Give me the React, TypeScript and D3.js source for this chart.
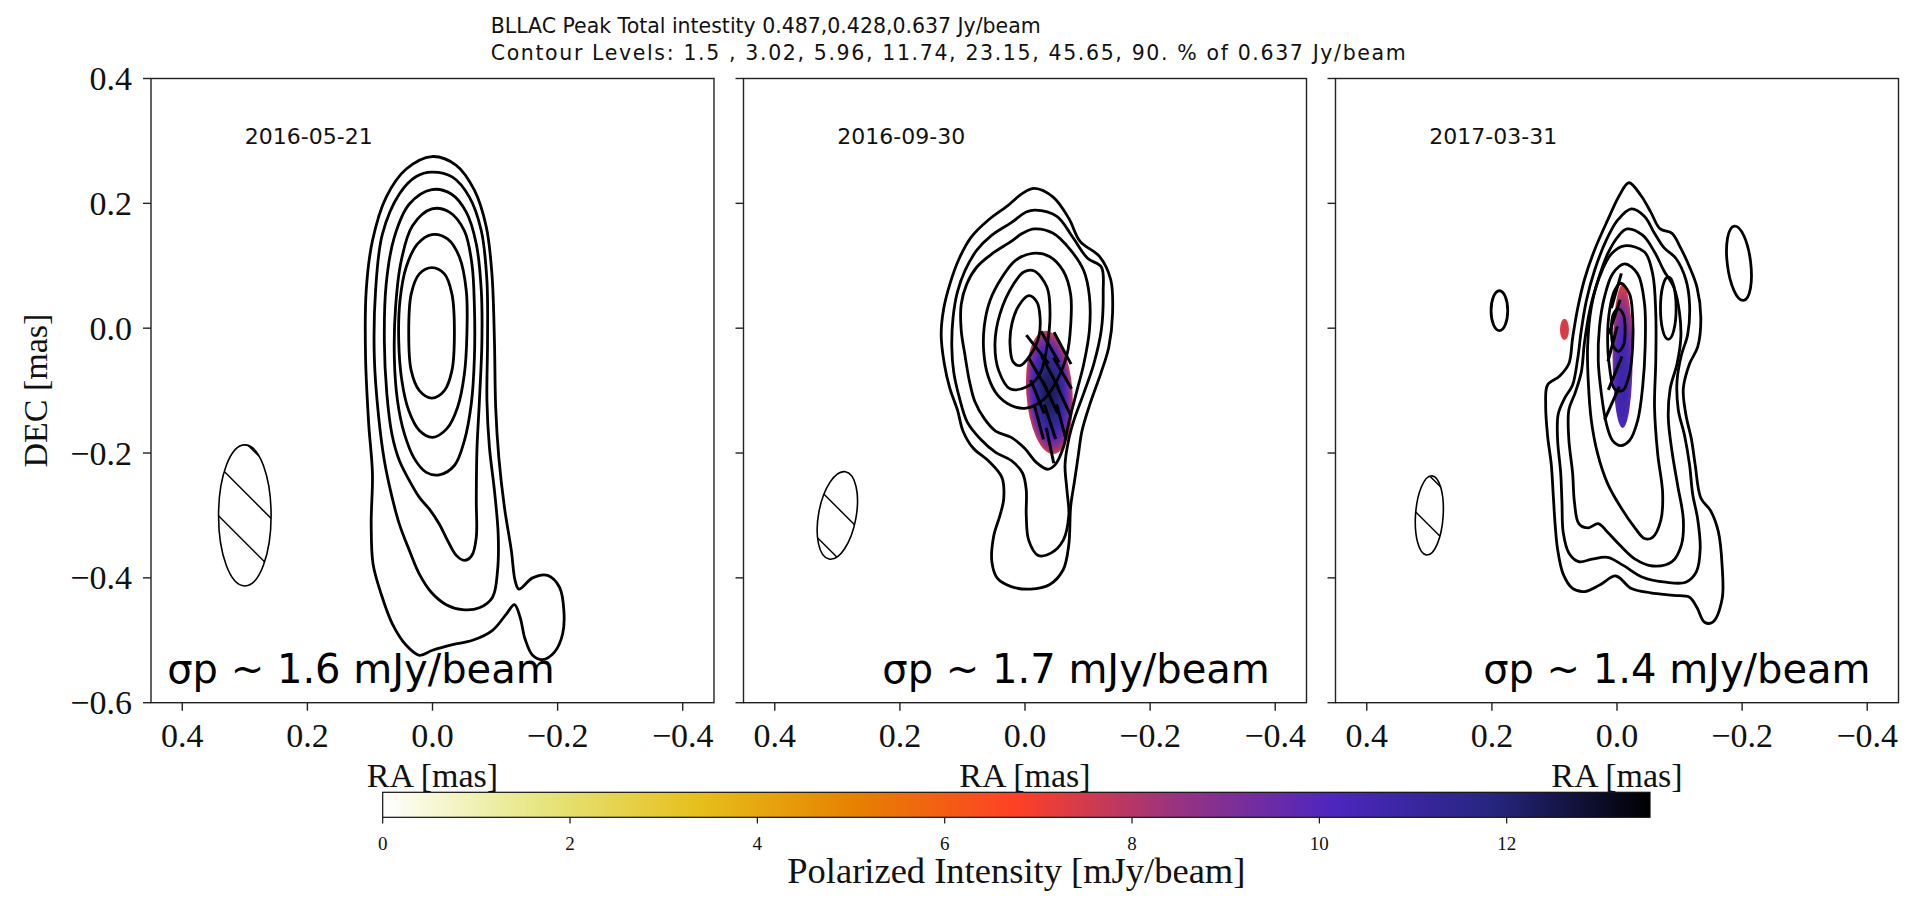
import React from "react";
import * as d3 from "d3";

// ---- values ----
const epochs = ["2016-05-21", "2016-09-30", "2017-03-31"];
const peakTotal = ["0.487", "0.428", "0.637"];
const levelLabels = ["1.5 ", "3.02", "5.96", "11.74", "23.15", "45.65", "90."];
const sigmaP = ["1.6", "1.7", "1.4"];

const raTicks = [0.4, 0.2, 0.0, -0.2, -0.4];
const decTicks = [0.4, 0.2, 0.0, -0.2, -0.4, -0.6];
const cbTicks = [0, 2, 4, 6, 8, 10, 12];
const piMax = 13.53;

// CMRmap_r
const cmapPos = [0, 0.125, 0.25, 0.375, 0.5, 0.625, 0.75, 0.875, 1];
const cmapColors = ["#ffffff", "#e6e680", "#e6bf1a", "#e68000", "#ff4026", "#993380", "#4d26bf", "#262680", "#000000"];

// beams: major, minor (mas), PA (deg)
const beamMaj = [0.113, 0.0711, 0.0636];
const beamMin = [0.042, 0.030, 0.0221];
const beamPa = [0, -10.6, -3.8];
const beamPos = [0.3, -0.3];

// total intensity contours [RA, DEC] in mas, outermost first
const contoursMay16 = [
  [[0.001, 0.275], [-0.038, 0.261], [-0.067, 0.221], [-0.086, 0.162], [-0.095, 0.087], [-0.099, -0.02], [-0.101, -0.127], [-0.106, -0.207], [-0.115, -0.287], [-0.126, -0.356], [-0.132, -0.404], [-0.138, -0.418], [-0.16, -0.4], [-0.184, -0.396], [-0.203, -0.415], [-0.21, -0.452], [-0.208, -0.49], [-0.195, -0.519], [-0.176, -0.531], [-0.16, -0.524], [-0.148, -0.498], [-0.14, -0.463], [-0.131, -0.443], [-0.118, -0.458], [-0.096, -0.484], [-0.064, -0.5], [-0.032, -0.507], [0.0, -0.516], [0.021, -0.524], [0.042, -0.508], [0.064, -0.474], [0.082, -0.426], [0.095, -0.378], [0.098, -0.314], [0.096, -0.233], [0.102, -0.153], [0.107, -0.047], [0.106, 0.06], [0.096, 0.14], [0.074, 0.21], [0.042, 0.255]],
  [[0.001, 0.25], [-0.032, 0.242], [-0.059, 0.21], [-0.078, 0.156], [-0.087, 0.076], [-0.088, -0.02], [-0.087, -0.116], [-0.091, -0.191], [-0.099, -0.26], [-0.105, -0.33], [-0.104, -0.388], [-0.096, -0.431], [-0.075, -0.448], [-0.048, -0.451], [-0.022, -0.443], [0.002, -0.423], [0.021, -0.394], [0.037, -0.356], [0.053, -0.314], [0.066, -0.265], [0.077, -0.212], [0.086, -0.143], [0.093, -0.047], [0.091, 0.06], [0.08, 0.151], [0.053, 0.215], [0.026, 0.243]],
  [[0.001, 0.222], [-0.03, 0.215], [-0.054, 0.186], [-0.07, 0.135], [-0.078, 0.06], [-0.079, -0.02], [-0.075, -0.116], [-0.071, -0.196], [-0.07, -0.276], [-0.07, -0.335], [-0.063, -0.364], [-0.051, -0.372], [-0.038, -0.364], [-0.024, -0.34], [-0.011, -0.314], [0.005, -0.29], [0.021, -0.271], [0.037, -0.244], [0.053, -0.212], [0.065, -0.169], [0.073, -0.105], [0.077, -0.02], [0.074, 0.071], [0.061, 0.146], [0.037, 0.199]],
  [[0.001, 0.191], [-0.027, 0.186], [-0.051, 0.156], [-0.063, 0.103], [-0.067, 0.034], [-0.067, -0.047], [-0.062, -0.121], [-0.051, -0.18], [-0.035, -0.22], [-0.011, -0.235], [0.01, -0.231], [0.029, -0.209], [0.045, -0.169], [0.056, -0.116], [0.061, -0.047], [0.059, 0.034], [0.05, 0.108], [0.032, 0.164]],
  [[0.001, 0.15], [-0.024, 0.143], [-0.043, 0.114], [-0.054, 0.06], [-0.055, -0.009], [-0.051, -0.073], [-0.04, -0.127], [-0.023, -0.161], [0.0, -0.175], [0.021, -0.164], [0.038, -0.132], [0.049, -0.084], [0.054, -0.02], [0.052, 0.044], [0.042, 0.098], [0.024, 0.135]],
  [[0.001, 0.097], [-0.019, 0.087], [-0.031, 0.055], [-0.035, -0.008], [-0.031, -0.068], [-0.019, -0.1], [0.001, -0.112], [0.021, -0.1], [0.034, -0.068], [0.038, -0.008], [0.034, 0.055], [0.021, 0.087]],
];

const contoursSep16 = [
  [[-0.015, 0.224], [-0.045, 0.21], [-0.07, 0.176], [-0.088, 0.139], [-0.119, 0.115], [-0.137, 0.078], [-0.14, 0.024], [-0.134, -0.03], [-0.122, -0.07], [-0.103, -0.124], [-0.091, -0.165], [-0.085, -0.205], [-0.079, -0.246], [-0.073, -0.286], [-0.07, -0.347], [-0.061, -0.387], [-0.039, -0.411], [-0.009, -0.418], [0.022, -0.414], [0.044, -0.401], [0.053, -0.374], [0.05, -0.333], [0.04, -0.3], [0.034, -0.273], [0.037, -0.239], [0.059, -0.212], [0.083, -0.192], [0.099, -0.165], [0.108, -0.131], [0.12, -0.097], [0.129, -0.057], [0.134, -0.01], [0.13, 0.031], [0.12, 0.071], [0.105, 0.112], [0.086, 0.146], [0.059, 0.173], [0.028, 0.196], [0.004, 0.216]],
  [[-0.016, 0.189], [-0.051, 0.179], [-0.076, 0.146], [-0.1, 0.112], [-0.122, 0.098], [-0.125, 0.058], [-0.122, -0.003], [-0.11, -0.057], [-0.094, -0.104], [-0.079, -0.145], [-0.07, -0.178], [-0.064, -0.219], [-0.067, -0.259], [-0.07, -0.3], [-0.061, -0.34], [-0.042, -0.36], [-0.021, -0.364], [-0.006, -0.34], [-0.002, -0.3], [-0.002, -0.259], [0.004, -0.232], [0.022, -0.212], [0.047, -0.199], [0.071, -0.178], [0.092, -0.151], [0.105, -0.111], [0.114, -0.07], [0.117, -0.03], [0.115, 0.017], [0.108, 0.058], [0.096, 0.092], [0.077, 0.125], [0.053, 0.149], [0.022, 0.169], [-0.002, 0.186]],
  [[-0.015, 0.159], [-0.045, 0.152], [-0.073, 0.125], [-0.094, 0.092], [-0.103, 0.051], [-0.103, -0.003], [-0.094, -0.057], [-0.082, -0.104], [-0.07, -0.151], [-0.061, -0.192], [-0.048, -0.219], [-0.036, -0.226], [-0.018, -0.215], [0.001, -0.192], [0.022, -0.175], [0.047, -0.165], [0.065, -0.145], [0.08, -0.118], [0.089, -0.084], [0.096, -0.043], [0.102, -0.003], [0.102, 0.038], [0.093, 0.071], [0.077, 0.098], [0.053, 0.119], [0.022, 0.139], [0.004, 0.152]],
  [[-0.012, 0.12], [-0.039, 0.115], [-0.061, 0.092], [-0.073, 0.054], [-0.073, 0.004], [-0.067, -0.043], [-0.051, -0.084], [-0.03, -0.114], [-0.002, -0.128], [0.022, -0.124], [0.044, -0.107], [0.059, -0.077], [0.066, -0.037], [0.065, 0.004], [0.056, 0.044], [0.037, 0.081], [0.016, 0.108]],
  [[-0.014, 0.092], [-0.035, 0.066], [-0.04, 0.023], [-0.035, -0.03], [-0.024, -0.073], [-0.003, -0.094], [0.024, -0.097], [0.042, -0.068], [0.048, -0.025], [0.04, 0.023], [0.018, 0.071], [0.002, 0.09]],
  [[-0.006, 0.052], [-0.019, 0.042], [-0.024, 0.018], [-0.022, -0.014], [-0.008, -0.044], [0.008, -0.06], [0.019, -0.054], [0.024, -0.025], [0.021, 0.007], [0.01, 0.036]],
];

const contoursMar17 = [
  [[-0.019, 0.233], [-0.038, 0.213], [-0.054, 0.186], [-0.069, 0.159], [-0.088, 0.152], [-0.1, 0.132], [-0.116, 0.098], [-0.128, 0.065], [-0.134, 0.017], [-0.129, -0.03], [-0.116, -0.057], [-0.106, -0.097], [-0.11, -0.138], [-0.119, -0.178], [-0.125, -0.219], [-0.134, -0.272], [-0.15, -0.293], [-0.162, -0.326], [-0.168, -0.38], [-0.168, -0.434], [-0.153, -0.471], [-0.14, -0.471], [-0.128, -0.448], [-0.116, -0.431], [-0.091, -0.428], [-0.054, -0.424], [-0.023, -0.417], [0.002, -0.397], [0.027, -0.411], [0.052, -0.422], [0.071, -0.417], [0.086, -0.394], [0.095, -0.354], [0.099, -0.313], [0.102, -0.266], [0.105, -0.219], [0.111, -0.172], [0.114, -0.124], [0.111, -0.091], [0.092, -0.077], [0.077, -0.057], [0.071, -0.016], [0.063, 0.031], [0.052, 0.078], [0.036, 0.125], [0.015, 0.173], [-0.004, 0.213]],
  [[-0.023, 0.191], [-0.044, 0.179], [-0.06, 0.152], [-0.075, 0.129], [-0.094, 0.112], [-0.11, 0.078], [-0.116, 0.038], [-0.113, -0.01], [-0.103, -0.043], [-0.096, -0.084], [-0.098, -0.131], [-0.108, -0.172], [-0.116, -0.219], [-0.121, -0.266], [-0.129, -0.306], [-0.133, -0.353], [-0.127, -0.39], [-0.11, -0.407], [-0.078, -0.407], [-0.041, -0.399], [-0.01, -0.38], [0.015, -0.367], [0.04, -0.37], [0.061, -0.374], [0.077, -0.36], [0.086, -0.327], [0.088, -0.279], [0.09, -0.232], [0.095, -0.178], [0.094, -0.138], [0.083, -0.111], [0.071, -0.091], [0.063, -0.05], [0.057, -0.003], [0.049, 0.044], [0.036, 0.092], [0.018, 0.139], [-0.001, 0.173]],
  [[-0.016, 0.159], [-0.041, 0.149], [-0.06, 0.122], [-0.075, 0.092], [-0.091, 0.065], [-0.1, 0.024], [-0.102, -0.016], [-0.096, -0.057], [-0.085, -0.097], [-0.082, -0.144], [-0.088, -0.198], [-0.097, -0.252], [-0.106, -0.306], [-0.103, -0.347], [-0.088, -0.374], [-0.057, -0.381], [-0.029, -0.37], [-0.004, -0.347], [0.015, -0.327], [0.03, -0.313], [0.046, -0.32], [0.061, -0.313], [0.068, -0.279], [0.071, -0.232], [0.077, -0.178], [0.077, -0.131], [0.067, -0.104], [0.057, -0.07], [0.052, -0.023], [0.043, 0.031], [0.03, 0.078], [0.015, 0.119], [-0.001, 0.146]],
  [[-0.012, 0.132], [-0.044, 0.122], [-0.057, 0.087], [-0.062, 0.023], [-0.062, -0.052], [-0.06, -0.127], [-0.065, -0.201], [-0.073, -0.265], [-0.07, -0.308], [-0.057, -0.335], [-0.044, -0.337], [-0.028, -0.319], [-0.006, -0.287], [0.015, -0.249], [0.031, -0.201], [0.041, -0.148], [0.046, -0.084], [0.047, -0.03], [0.041, 0.034], [0.028, 0.082], [0.009, 0.119]],
  [[-0.012, 0.103], [-0.033, 0.087], [-0.044, 0.039], [-0.045, -0.03], [-0.041, -0.094], [-0.033, -0.148], [-0.02, -0.18], [-0.006, -0.188], [0.007, -0.18], [0.017, -0.153], [0.025, -0.105], [0.03, -0.052], [0.028, 0.002], [0.02, 0.05], [0.007, 0.087]],
  [[-0.006, 0.072], [-0.02, 0.055], [-0.025, 0.018], [-0.025, -0.03], [-0.02, -0.073], [-0.009, -0.1], [0.004, -0.097], [0.012, -0.062], [0.015, -0.014], [0.012, 0.028], [0.004, 0.06]],
  [[-0.002, 0.031], [-0.01, 0.022], [-0.013, -0.003], [-0.01, -0.028], [-0.002, -0.037], [0.006, -0.028], [0.009, -0.003], [0.006, 0.022]],
];

// isolated lowest-level islands: RA, DEC, semi-axis x, semi-axis y, PA
const islandsMar17 = [
  [0.188, 0.028, 0.0133, 0.032, 0],
  [-0.082, 0.032, 0.0125, 0.05, 0],
  [-0.195, 0.104, 0.0187, 0.06, 7],
];

// polarized intensity blobs: RA, DEC, rx, ry, PA, peak, edge (mJy/beam), focus y, radius
const polSep16 = [[-0.039, -0.103, 0.037, 0.099, 4, 12.3, 7.5, 0.5, 0.5]];
const polMar17 = [
  [-0.009, -0.045, 0.016, 0.115, 0, 10.8, 7.3, 0.68, 0.66],
  [0.084, -0.002, 0.0072, 0.017, 0, 7.5, 7.2, 0.5, 0.5],
];

// EVPA sticks: RA, DEC, EVPA (deg)
const evpaSep16 = [
  [-0.02, -0.034, 38], [-0.04, -0.03, 30], [-0.06, -0.032, 28],
  [-0.02, -0.072, 30], [-0.04, -0.07, 28], [-0.06, -0.072, 30],
  [-0.02, -0.11, 22], [-0.04, -0.11, 25], [-0.06, -0.112, 25],
  [-0.022, -0.15, 15], [-0.04, -0.15, 18], [-0.058, -0.15, 15],
  [-0.04, -0.188, 12],
];
const evpaMar17 = [
  [0.001, 0.06, -16], [0.004, 0.018, -18], [0.007, -0.025, -15],
  [0.003, -0.072, -22], [0.008, -0.12, -24],
];

const contourSets = [contoursMay16, contoursSep16, contoursMar17];
const islandSets = [[], [], islandsMar17];
const polSets = [[], polSep16, polMar17];
const evpaSets = [[], evpaSep16, evpaMar17];

// ---- layout ----
const PANEL_LEFT = [151, 743.5, 1335.5];
const PANEL_TOP = 78.5;
const PW = 563;
const PH = 624.2;
const HATCH_OFF = [-23.3, -7.9, 10.2];
const STICK = 0.058;
const SERIF = "'Liberation Serif', 'Times New Roman', serif";
const SANS = "'DejaVu Sans', sans-serif";

const fmt = (v: number) => (v < 0 ? "\u2212" : "") + Math.abs(v).toFixed(1);

export default function App() {
  const x = d3.scaleLinear().domain([0.45, -0.45]).range([0, PW]);
  const y = d3.scaleLinear().domain([-0.6, 0.4]).range([PH, 0]);
  const kx = PW / 0.9;
  const ky = PH / 1.0;
  const ring = d3
    .line<number[]>()
    .x((d) => x(d[0]))
    .y((d) => y(d[1]))
    .curve(d3.curveCatmullRomClosed.alpha(0.5));
  const cmap = d3
    .scaleLinear<string>()
    .domain(cmapPos.map((p) => p * piMax))
    .range(cmapColors)
    .clamp(true);
  const cb = d3.scaleLinear().domain([0, piMax]).range([382.7, 1650]);

  // flat-topped profile: value falls off mostly near the blob edge
  const gradStops = (peak: number, edge: number) =>
    d3.range(0, 1.0001, 0.1).map((s) => ({
      off: s,
      col: cmap(peak - (peak - edge) * Math.pow(s, 2.5)),
    }));

  return (
    <svg
      width={1909}
      height={902}
      style={{ position: "absolute", left: 0, top: 0, display: "block" }}
      xmlns="http://www.w3.org/2000/svg"
    >
      <defs>
        <clipPath id="panelclip">
          <rect x={0} y={0} width={PW} height={PH} />
        </clipPath>
        <linearGradient id="cbgrad" x1="0" x2="1" y1="0" y2="0">
          {cmapPos.map((p, i) => (
            <stop key={i} offset={p} stopColor={cmapColors[i]} />
          ))}
        </linearGradient>
        {polSets.map((set, i) =>
          set.map((b, j) => (
            <radialGradient key={`g${i}${j}`} id={`pg${i}_${j}`} cx={0.5} cy={b[7]} fx={0.5} fy={b[7]} r={b[8]}>
              {gradStops(b[5], b[6]).map((s, k) => (
                <stop key={k} offset={s.off} stopColor={s.col} />
              ))}
            </radialGradient>
          ))
        )}
        {beamMaj.map((a, i) => (
          <clipPath key={i} id={`beamclip${i}`}>
            <ellipse cx={0} cy={0} rx={beamMin[i] * kx} ry={a * ky} transform={`rotate(${-beamPa[i]})`} />
          </clipPath>
        ))}
      </defs>
      <rect x={0} y={0} width={1909} height={902} fill="#fff" />

      <text x={490.7} y={33.3} fontFamily={SANS} fontSize={20.5} fill="#111" textLength={550} lengthAdjust="spacing">
        {`BLLAC Peak Total intestity ${peakTotal.join(",")} Jy/beam`}
      </text>
      <text x={490.7} y={60} fontFamily={SANS} fontSize={20.5} fill="#111" textLength={915} lengthAdjust="spacing">
        {`Contour Levels: ${levelLabels.join(", ")} % of ${peakTotal[2]} Jy/beam`}
      </text>

      {PANEL_LEFT.map((left, i) => (
        <g key={i} transform={`translate(${left},${PANEL_TOP})`}>
          <g clipPath="url(#panelclip)">
            {polSets[i].map((b, j) => (
              <ellipse
                key={`p${j}`}
                cx={x(b[0])}
                cy={y(b[1])}
                rx={b[2] * kx}
                ry={b[3] * ky}
                transform={`rotate(${-b[4]},${x(b[0])},${y(b[1])})`}
                fill={`url(#pg${i}_${j})`}
              />
            ))}
            {contourSets[i].map((c, j) => (
              <path key={`c${j}`} d={ring(c) || ""} fill="none" stroke="#000" strokeWidth={2.8} strokeLinejoin="round" />
            ))}
            {islandSets[i].map((e, j) => (
              <ellipse
                key={`is${j}`}
                cx={x(e[0])}
                cy={y(e[1])}
                rx={e[2] * kx}
                ry={e[3] * ky}
                transform={`rotate(${-e[4]},${x(e[0])},${y(e[1])})`}
                fill="none"
                stroke="#000"
                strokeWidth={2.8}
              />
            ))}
            {evpaSets[i].map((s, j) => {
              const t = (s[2] * Math.PI) / 180;
              const dr = (STICK / 2) * Math.sin(t);
              const dd = (STICK / 2) * Math.cos(t);
              return (
                <line
                  key={`e${j}`}
                  x1={x(s[0] + dr)}
                  y1={y(s[1] + dd)}
                  x2={x(s[0] - dr)}
                  y2={y(s[1] - dd)}
                  stroke="#000"
                  strokeWidth={3}
                />
              );
            })}
            {/* beam */}
            <g transform={`translate(${x(beamPos[0])},${y(beamPos[1])})`}>
              <ellipse
                cx={0}
                cy={0}
                rx={beamMin[i] * kx}
                ry={beamMaj[i] * ky}
                transform={`rotate(${-beamPa[i]})`}
                fill="none"
                stroke="#000"
                strokeWidth={1.6}
              />
              <g clipPath={`url(#beamclip${i})`}>
                {[-2, -1, 0, 1, 2].map((k) => {
                  const c = HATCH_OFF[i] + k * 50;
                  return <line key={k} x1={-90} y1={-90 + c} x2={90} y2={90 + c} stroke="#000" strokeWidth={1.5} />;
                })}
              </g>
            </g>
            <text x={x(0.3)} y={y(0.295)} fontFamily={SANS} fontSize={22} fill="#111">
              {epochs[i]}
            </text>
            <text x={x([0.424, 0.228, 0.214][i])} y={y(-0.568)} fontFamily={SANS} fontSize={40} fill="#000">
              {`\u03c3p ~ ${sigmaP[i]} mJy/beam`}
            </text>
          </g>
          <rect x={0} y={0} width={PW} height={PH} fill="none" stroke="#222" strokeWidth={1.4} />
          {raTicks.map((t) => (
            <g key={`xt${t}`}>
              <line x1={x(t)} x2={x(t)} y1={PH} y2={PH + 8} stroke="#222" strokeWidth={1.4} />
              <text x={x(t)} y={PH + 44} textAnchor="middle" fontFamily={SERIF} fontSize={34} fill="#111">
                {fmt(t)}
              </text>
            </g>
          ))}
          {decTicks.map((t) => (
            <g key={`yt${t}`}>
              <line x1={-8} x2={0} y1={y(t)} y2={y(t)} stroke="#222" strokeWidth={1.4} />
              {i === 0 && (
                <text x={-19} y={y(t) + 11.5} textAnchor="end" fontFamily={SERIF} fontSize={34} fill="#111">
                  {fmt(t)}
                </text>
              )}
            </g>
          ))}
          <text x={PW / 2} y={PH + 84} textAnchor="middle" fontFamily={SERIF} fontSize={34} fill="#111">
            RA [mas]
          </text>
        </g>
      ))}

      <text
        transform={`translate(47,${PANEL_TOP + PH / 2}) rotate(-90)`}
        textAnchor="middle"
        fontFamily={SERIF}
        fontSize={34}
        fill="#111"
      >
        DEC [mas]
      </text>

      {/* colorbar */}
      <rect x={cb(0)} y={792.3} width={cb(piMax) - cb(0)} height={25} fill="url(#cbgrad)" stroke="#111" strokeWidth={1.2} />
      {cbTicks.map((t) => (
        <g key={`cb${t}`}>
          <line x1={cb(t)} x2={cb(t)} y1={817.3} y2={823.5} stroke="#111" strokeWidth={1.2} />
          <text x={cb(t)} y={849.5} textAnchor="middle" fontFamily={SERIF} fontSize={19} fill="#111">
            {t}
          </text>
        </g>
      ))}
      <text x={(cb(0) + cb(piMax)) / 2} y={883} textAnchor="middle" fontFamily={SERIF} fontSize={36.5} fill="#111">
        Polarized Intensity [mJy/beam]
      </text>
    </svg>
  );
}
